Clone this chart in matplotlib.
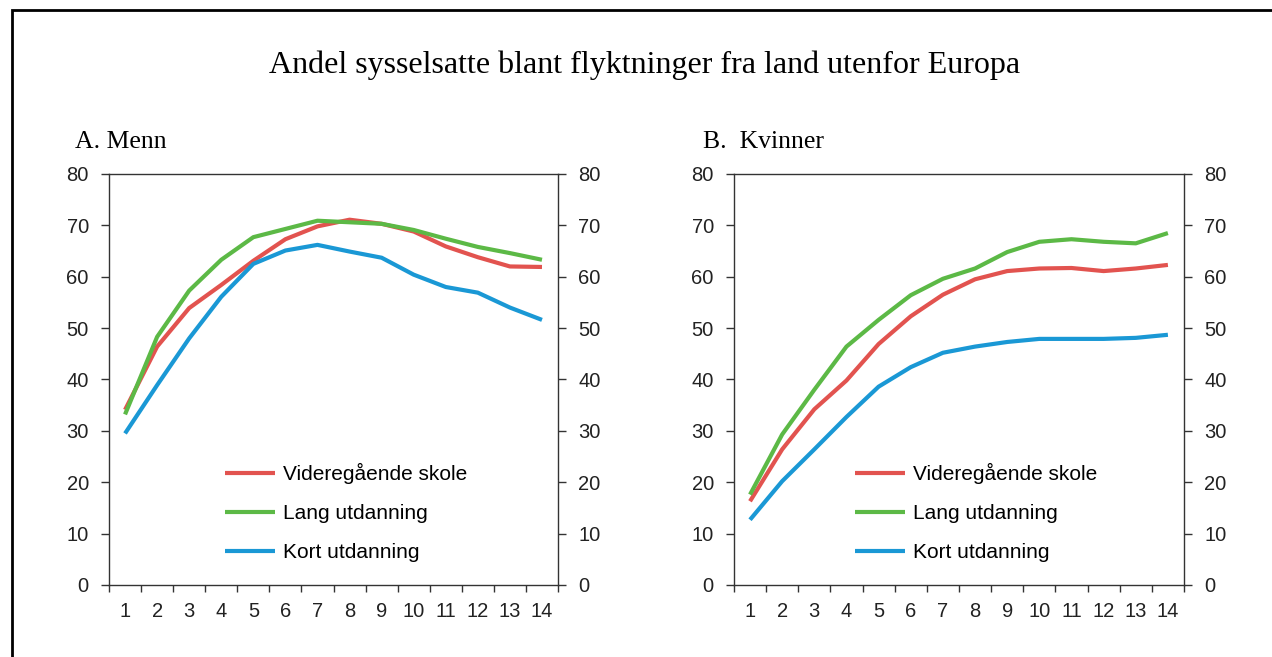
import matplotlib
matplotlib.use('Agg')
import matplotlib.pyplot as plt
from matplotlib.patches import Rectangle

# years since settlement
years = list(range(1, 15))

# A. Menn
menn_vgs = [34.1, 46.4, 53.9, 58.4, 63.1, 67.3, 69.8, 71.1, 70.3, 68.8, 65.9, 63.8, 62.0, 61.9]
menn_lang = [33.2, 48.3, 57.3, 63.3, 67.7, 69.3, 70.9, 70.6, 70.3, 69.1, 67.4, 65.8, 64.6, 63.3]
menn_kort = [29.5, 38.9, 48.0, 56.1, 62.5, 65.1, 66.2, 64.9, 63.7, 60.4, 58.0, 56.9, 54.0, 51.6]

# B. Kvinner
kvinner_vgs = [16.3, 26.4, 34.2, 39.8, 46.9, 52.3, 56.5, 59.5, 61.1, 61.6, 61.7, 61.1, 61.6, 62.3]
kvinner_lang = [17.6, 29.3, 38.0, 46.4, 51.6, 56.4, 59.6, 61.6, 64.8, 66.8, 67.3, 66.8, 66.5, 68.5]
kvinner_kort = [12.7, 20.2, 26.4, 32.7, 38.6, 42.4, 45.2, 46.4, 47.3, 47.9, 47.9, 47.9, 48.1, 48.7]

labels = ['Videregående skole', 'Lang utdanning', 'Kort utdanning']
colors = ['#E2534F', '#5CB946', '#1A98D5']

plt.rcParams['font.family'] = ['Liberation Sans', 'DejaVu Sans']


def draw_panel(ax, series, legend_x):
	for vals, lab, col in zip(series, labels, colors):
		ax.plot(years, vals, color=col, lw=3, label=lab, solid_capstyle='butt')
	ax.set_xlim(0.5, 14.5)
	ax.set_ylim(0, 80)
	ax.set_yticks(range(0, 81, 10))
	ax.set_xticks(years)
	ax.set_xticks([x + 0.5 for x in range(0, 15)], minor=True)
	ax.tick_params(axis='x', which='major', length=0, labelsize=14.5, pad=12.5, colors='#222222')
	ax.tick_params(axis='x', which='minor', length=5, width=1, direction='out', color='#333333')
	ax.tick_params(axis='y', which='major', length=6, width=1, direction='out', labelsize=14.5, pad=8.5,
		left=True, right=True, labelleft=True, labelright=True, color='#333333', labelcolor='#222222')
	for s in ax.spines.values():
		s.set_color('#333333')
		s.set_linewidth(1)
	ax.legend(loc='upper left', bbox_to_anchor=(legend_x, 0.296), frameon=False, fontsize=15,
		handlelength=2.4, handletextpad=0.4, labelspacing=0.95, borderpad=0, borderaxespad=0)


fig = plt.figure(figsize=(12.72, 6.57), dpi=100)
ax1 = fig.add_axes([0.0857, 0.1096, 0.353, 0.6256])
ax2 = fig.add_axes([0.577, 0.1096, 0.3538, 0.6256])

draw_panel(ax1, [menn_vgs, menn_lang, menn_kort], 0.258)
draw_panel(ax2, [kvinner_vgs, kvinner_lang, kvinner_kort], 0.269)

fig.text(0.507, 0.90, 'Andel sysselsatte blant flyktninger fra land utenfor Europa',
	ha='center', va='center', fontsize=23, family='Liberation Serif')
fig.text(0.059, 0.784, 'A. Menn', ha='left', va='center', fontsize=18.5, family='Liberation Serif')
fig.text(0.553, 0.784, 'B.  Kvinner', ha='left', va='center', fontsize=18.5, family='Liberation Serif')

# outer frame, right and bottom edges fall outside the picture
fig.patches.append(Rectangle((12 / 1272, -0.1), 1.2, 1.1 - 10 / 657,
	transform=fig.transFigure, fill=False, lw=2, edgecolor='black'))

fig.savefig('out.png', dpi=100)
